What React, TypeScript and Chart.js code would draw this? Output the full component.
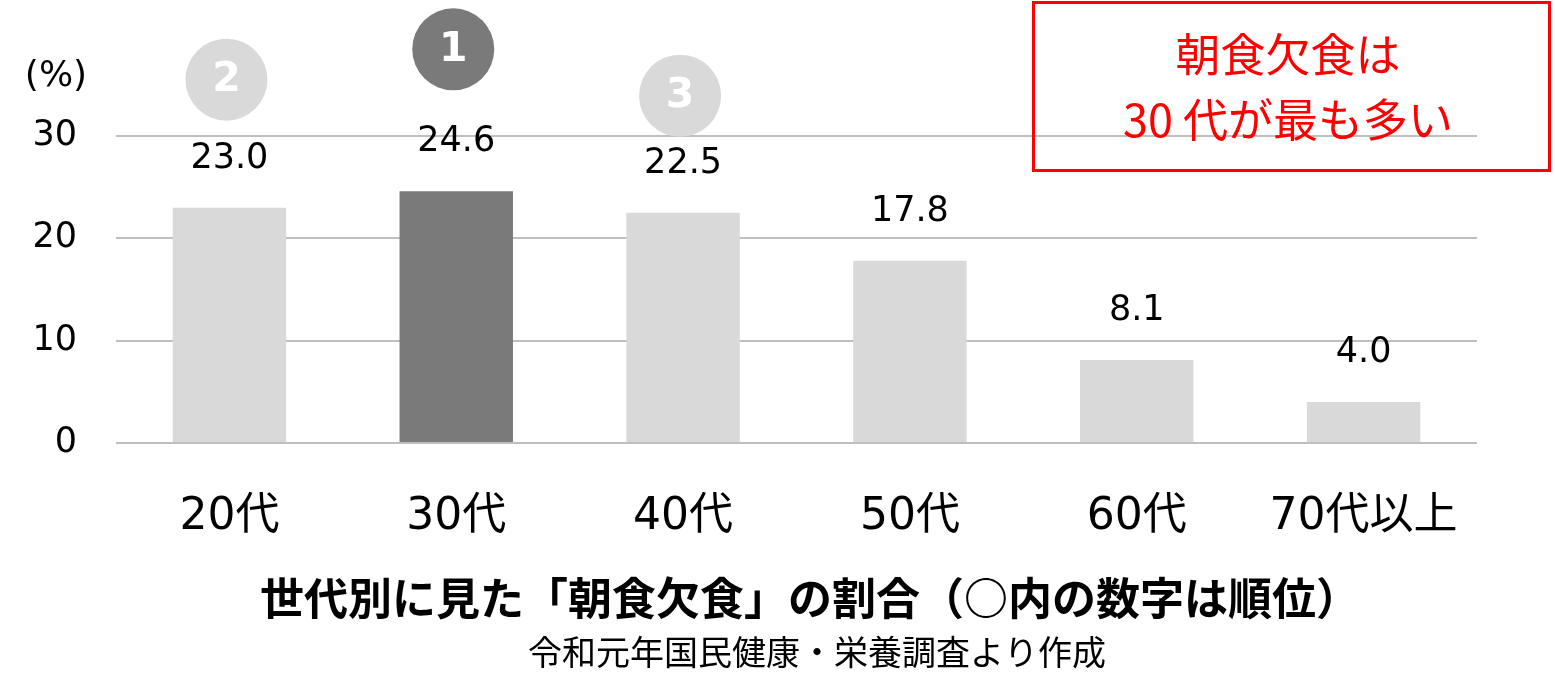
import React, { useEffect, useRef } from "react";
import { Chart, registerables } from "chart.js";

Chart.register(...registerables);

const categories = ["20代", "30代", "40代", "50代", "60代", "70代以上"];
const values = [23.0, 24.6, 22.5, 17.8, 8.1, 4.0];
const ranks: (number | null)[] = [2, 1, 3, null, null, null];
const yTicks = [0, 10, 20, 30];
const titleText = "世代別に見た「朝食欠食」の割合（○内の数字は順位）";
const sourceText = "令和元年国民健康・栄養調査より作成";
const calloutLines = ["朝食欠食は", "30 代が最も多い"];
const unitLabel = "(%)";

// annotation styling (pixel offsets of rank circles above bar tops)
const rankOffsets = [-128, -142, -117, 0, 0, 0];
const LIGHT = "#d9d9d9";
const DARK = "#7a7a7a";
const NUM_FONT = '"DejaVu Sans", "Noto Sans CJK JP", sans-serif';
const JP_FONT = '"Noto Sans CJK JP", "DejaVu Sans", sans-serif';

export default function App() {
  const ref = useRef<HTMLCanvasElement | null>(null);

  useEffect(() => {
    if (!ref.current) return;
    const overlay = {
      id: "overlay",
      afterDatasetsDraw(chart: any) {
        const ctx = chart.ctx as CanvasRenderingContext2D;
        const meta = chart.getDatasetMeta(0);
        ctx.save();
        meta.data.forEach((bar: any, i: number) => {
          ctx.fillStyle = "#000";
          ctx.font = `35px ${NUM_FONT}`;
          ctx.textAlign = "center";
          ctx.textBaseline = "middle";
          ctx.fillText(values[i].toFixed(1), bar.x, bar.y - 49);
          const r = ranks[i];
          if (r !== null) {
            const cx = bar.x - 3;
            const cy = bar.y + rankOffsets[i];
            ctx.beginPath();
            ctx.arc(cx, cy, 41, 0, Math.PI * 2);
            ctx.fillStyle = r === 1 ? DARK : LIGHT;
            ctx.fill();
            ctx.fillStyle = "#fff";
            ctx.font = `bold 41px ${NUM_FONT}`;
            ctx.fillText(String(r), cx, cy + 1);
          }
        });
        // unit label
        ctx.fillStyle = "#000";
        ctx.font = `36px ${NUM_FONT}`;
        ctx.textAlign = "center";
        ctx.fillText(unitLabel, 56, 77);
        // callout box
        ctx.strokeStyle = "#ff0000";
        ctx.lineWidth = 3;
        ctx.strokeRect(1033.5, 2.5, 516, 168);
        ctx.fillStyle = "#ff0000";
        ctx.font = `45px ${JP_FONT}`;
        ctx.fillText(calloutLines[0], 1288, 55);
        ctx.fillText(calloutLines[1], 1288, 120);
        // titles
        ctx.fillStyle = "#000";
        ctx.font = `bold 44px ${JP_FONT}`;
        ctx.fillText(titleText, 810, 598);
        ctx.font = `34px ${JP_FONT}`;
        ctx.fillText(sourceText, 817, 652);
        ctx.restore();
      },
    };

    const chart = new Chart(ref.current, {
      type: "bar",
      data: {
        labels: categories,
        datasets: [
          {
            data: values,
            backgroundColor: ranks.map((r) => (r === 1 ? DARK : LIGHT)),
            borderWidth: 0,
            categoryPercentage: 1,
            barPercentage: 0.5,
          },
        ],
      },
      options: {
        animation: false,
        responsive: false,
        layout: { padding: { top: 136, right: 78, left: 0, bottom: 0 } },
        plugins: {
          legend: { display: false },
          tooltip: { enabled: false },
          title: { display: false },
        },
        scales: {
          x: {
            grid: { display: false, drawTicks: false },
            border: { display: false },
            ticks: {
              color: "#000",
              font: { size: 44, family: NUM_FONT },
              padding: 48,
              maxRotation: 0,
            },
            afterFit: (s: any) => {
              s.height = 236;
            },
          },
          y: {
            min: 0,
            max: 30,
            afterBuildTicks: (s: any) => {
              s.ticks = yTicks.map((v) => ({ value: v }));
            },
            grid: { color: "#bfbfbf", lineWidth: 2, drawTicks: false },
            border: { display: false },
            ticks: {
              color: "#000",
              font: { size: 35, family: NUM_FONT },
              padding: 39,
            },
            afterFit: (s: any) => {
              s.width = 116;
            },
          },
        },
      },
      plugins: [overlay],
    });
    return () => chart.destroy();
  }, []);

  return (
    <div style={{ position: "fixed", left: 0, top: 0, width: 1555, height: 679, background: "#fff" }}>
      <canvas ref={ref} width={1555} height={679} />
    </div>
  );
}
